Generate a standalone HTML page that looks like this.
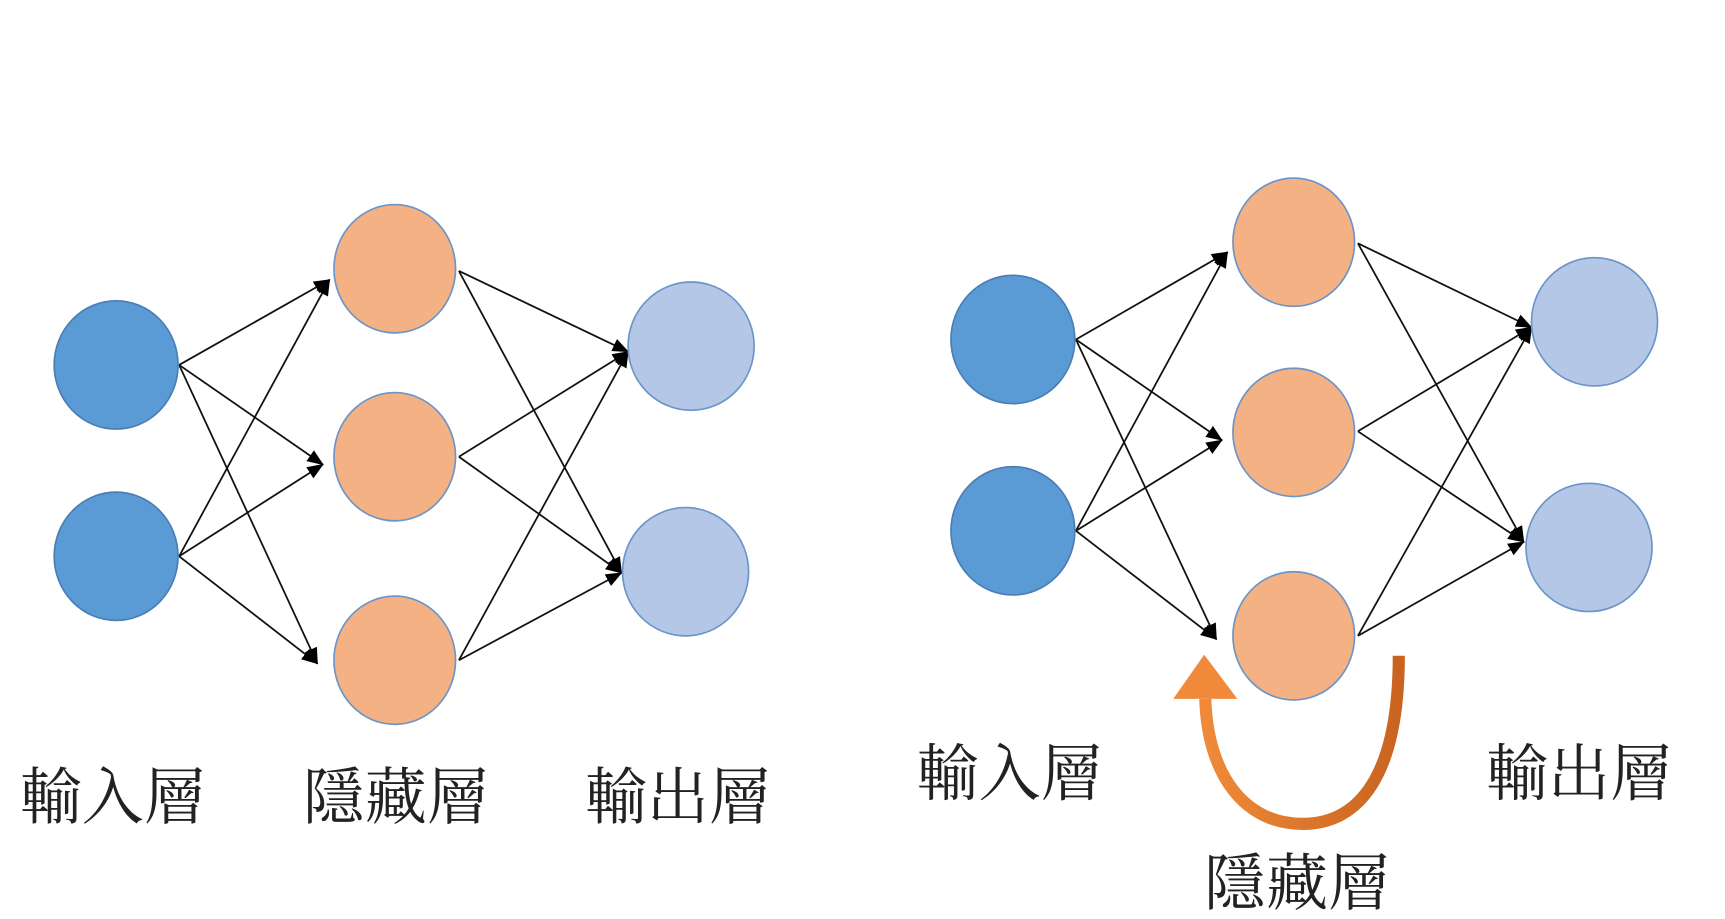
<!DOCTYPE html>
<html><head><meta charset="utf-8"><style>
html,body{margin:0;padding:0;background:#fff;width:1725px;height:919px;overflow:hidden}
svg{display:block}
text{font-family:"Liberation Serif","Noto Serif CJK SC","Noto Sans CJK TC",serif;font-size:56px;fill:#222}
</style></head><body>
<svg width="1725" height="919" viewBox="0 0 1560 831" preserveAspectRatio="none">
<defs>
<marker id="a" markerWidth="16" markerHeight="16" refX="14" refY="6" orient="auto" markerUnits="userSpaceOnUse" viewBox="0 0 16 12"><path d="M0,0 L15,6 L0,12 z" fill="#000"/></marker>
<linearGradient id="og" x1="0" y1="0" x2="1" y2="0"><stop offset="0" stop-color="#f08a3a"/><stop offset="1" stop-color="#c8641f"/></linearGradient>
</defs>
<g stroke="#111" stroke-width="1.6" fill="none" marker-end="url(#a)">
<line x1="162" y1="330" x2="298" y2="253"/><line x1="162" y1="330" x2="292" y2="420"/><line x1="162" y1="330" x2="287" y2="600"/>
<line x1="162" y1="503" x2="298" y2="253"/><line x1="162" y1="503" x2="292" y2="420"/><line x1="162" y1="503" x2="287" y2="600"/>
<line x1="415" y1="245" x2="568" y2="318"/><line x1="415" y1="245" x2="562" y2="518"/>
<line x1="415" y1="413" x2="568" y2="318"/><line x1="415" y1="413" x2="562" y2="518"/>
<line x1="415" y1="597" x2="568" y2="318"/><line x1="415" y1="597" x2="562" y2="518"/>
<line x1="973" y1="307" x2="1110" y2="228"/><line x1="973" y1="307" x2="1105" y2="398"/><line x1="973" y1="307" x2="1100" y2="578"/>
<line x1="973" y1="480" x2="1110" y2="228"/><line x1="973" y1="480" x2="1105" y2="398"/><line x1="973" y1="480" x2="1100" y2="578"/>
<line x1="1228" y1="220" x2="1385" y2="296"/><line x1="1228" y1="220" x2="1378" y2="490"/>
<line x1="1228" y1="390" x2="1385" y2="296"/><line x1="1228" y1="390" x2="1378" y2="490"/>
<line x1="1228" y1="575" x2="1385" y2="296"/><line x1="1228" y1="575" x2="1378" y2="490"/>
</g>
<g stroke="#4a7db5" stroke-width="1.5">
<ellipse cx="105" cy="330" rx="56" ry="58" fill="#5b9bd5"/><ellipse cx="105" cy="503" rx="56" ry="58" fill="#5b9bd5"/>
<ellipse cx="916" cy="307" rx="56" ry="58" fill="#5b9bd5"/><ellipse cx="916" cy="480" rx="56" ry="58" fill="#5b9bd5"/>
</g>
<g stroke="#6b95c8" stroke-width="1.5" fill="#f4b183">
<ellipse cx="357" cy="243" rx="55" ry="58"/><ellipse cx="357" cy="413" rx="55" ry="58"/><ellipse cx="357" cy="597" rx="55" ry="58"/>
<ellipse cx="1170" cy="219" rx="55" ry="58"/><ellipse cx="1170" cy="391" rx="55" ry="58"/><ellipse cx="1170" cy="575" rx="55" ry="58"/>
</g>
<g stroke="#6b95c8" stroke-width="1.5" fill="#b4c7e7">
<ellipse cx="625" cy="313" rx="57" ry="58"/><ellipse cx="620" cy="517" rx="57" ry="58"/>
<ellipse cx="1442" cy="291" rx="57" ry="58"/><ellipse cx="1437" cy="495" rx="57" ry="58"/>
</g>
<path d="M1265,593 C1265,700 1230,745 1178,745 C1125,745 1092,700 1090,632" fill="none" stroke="url(#og)" stroke-width="11"/>
<path d="M1061,632 L1089,592 L1119,632 z" fill="#f08a3a"/>
<text x="18" y="740">輸入層</text>
<text x="274" y="740">隱藏層</text>
<text x="529" y="740">輸出層</text>
<text x="829" y="719">輸入層</text>
<text x="1344" y="719">輸出層</text>
<text x="1089" y="818">隱藏層</text>
</svg>
</body></html>
